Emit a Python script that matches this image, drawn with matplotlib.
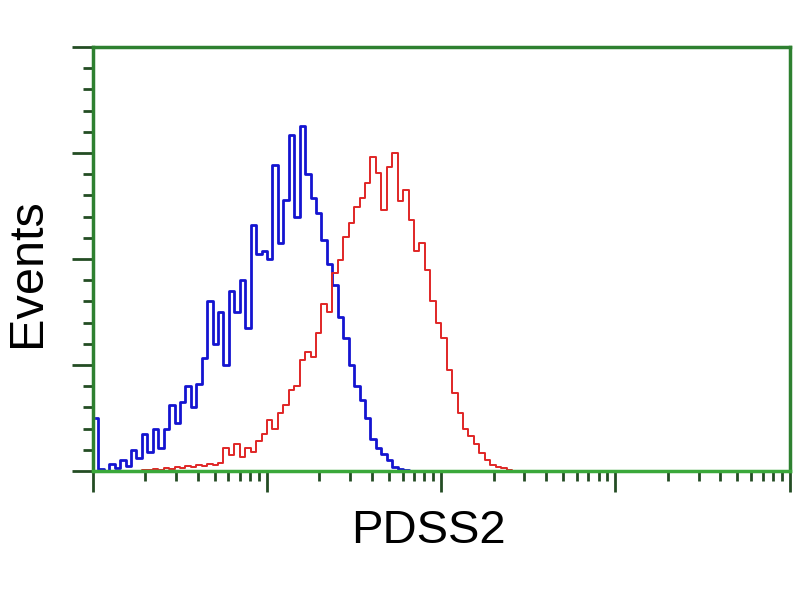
import numpy as np
import matplotlib.pyplot as plt
from matplotlib.ticker import LogLocator, MultipleLocator, NullFormatter

# 128 channels over 4 decades
n_channels = 128
decades = 4

# blue histogram (control), channels 0..58
blue_start = 0
blue_counts = [50, 2, 0, 7, 3, 10, 5, 20, 12, 35,
               18, 40, 22, 40, 62, 45, 65, 80, 60, 82,
               107, 160, 120, 150, 100, 170, 150, 180, 135, 232,
               205, 208, 200, 289, 215, 256, 317, 240, 325, 280,
               258, 243, 218, 195, 175, 145, 125, 100, 80, 67,
               50, 30, 22, 16, 10, 4, 2, 1, 0]

# red histogram (PDSS2), channels 8..77
red_start = 8
red_counts = [0, 1, 1, 2, 1, 3, 2, 4, 3, 5,
              4, 6, 5, 7, 6, 8, 22, 15, 25, 13,
              22, 18, 28, 35, 48, 40, 55, 62, 76, 80,
              105, 112, 108, 130, 158, 150, 187, 199, 221, 234,
              249, 258, 272, 296, 281, 246, 287, 300, 255, 265,
              237, 208, 215, 190, 160, 140, 125, 95, 74, 55,
              40, 33, 25, 17, 10, 6, 4, 3, 1, 0]


def channel_to_x(start, counts):
    ch = np.arange(start, start + len(counts)) + 0.5
    return 10 ** (ch * decades / n_channels)


fig = plt.figure(figsize=(8, 6), dpi=100)
ax = fig.add_axes([0.116, 0.215, 0.871, 0.7067])

ax.plot(channel_to_x(blue_start, blue_counts), blue_counts,
        drawstyle='steps-mid', color='#1414d0', linewidth=2.0)
ax.plot(channel_to_x(red_start, red_counts), red_counts,
        drawstyle='steps-mid', color='#e02626', linewidth=1.4)

ax.set_xscale('log')
ax.set_xlim(1, 10 ** decades)
ax.set_ylim(0, 400)

ax.xaxis.set_major_locator(LogLocator(base=10, numticks=10))
ax.xaxis.set_minor_locator(LogLocator(base=10, subs=np.arange(2, 10), numticks=20))
ax.yaxis.set_major_locator(MultipleLocator(100))
ax.yaxis.set_minor_locator(MultipleLocator(20))
ax.xaxis.set_major_formatter(NullFormatter())
ax.xaxis.set_minor_formatter(NullFormatter())
ax.yaxis.set_major_formatter(NullFormatter())

tick_col = '#244d24'
ax.tick_params(which='major', direction='out', length=15, width=2, color=tick_col)
ax.tick_params(which='minor', direction='out', length=7, width=2, color=tick_col)
ax.tick_params(top=False, right=False)

for side in ['left', 'top', 'right']:
    ax.spines[side].set_color('#2e8030')
    ax.spines[side].set_linewidth(2.5)
ax.spines['bottom'].set_color('#3aa83a')
ax.spines['bottom'].set_linewidth(2.5)

fig.text(0.535, 0.115, 'PDSS2', ha='center', va='center',
         fontsize=34, family='Liberation Sans')
fig.text(0.035, 0.545, 'Events', ha='center', va='center', rotation=90,
         fontsize=35, family='Liberation Sans')

fig.savefig('out.png', dpi=100)
